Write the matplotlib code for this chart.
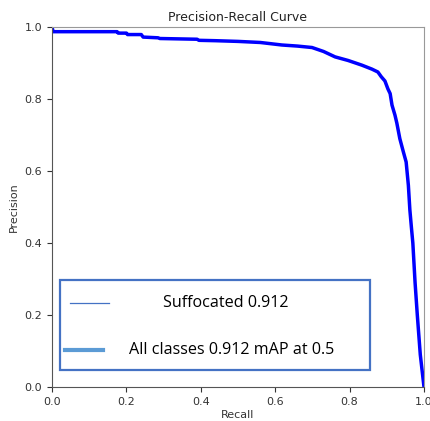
import numpy as np
import matplotlib.pyplot as plt
from matplotlib.patches import Rectangle

recall = [0.0, 0.003, 0.013, 0.175, 0.178, 0.2, 0.203, 0.24, 0.245, 0.285, 0.29,
          0.39, 0.395, 0.438, 0.5, 0.56, 0.618, 0.66, 0.699, 0.73, 0.761, 0.796,
          0.833, 0.86, 0.876, 0.885, 0.895, 0.903, 0.909, 0.914, 0.922, 0.927,
          0.935, 0.944, 0.952, 0.958, 0.962, 0.966, 0.970, 0.976, 0.982, 0.99, 1.0]
precision = [1.0, 0.987, 0.987, 0.987, 0.983, 0.983, 0.979, 0.979, 0.972, 0.970, 0.968,
             0.966, 0.963, 0.962, 0.960, 0.957, 0.950, 0.947, 0.943, 0.932, 0.917, 0.907,
             0.894, 0.883, 0.875, 0.862, 0.850, 0.828, 0.815, 0.783, 0.755, 0.733,
             0.690, 0.655, 0.625, 0.560, 0.492, 0.445, 0.400, 0.290, 0.200, 0.09, 0.0]

ticks = [0.0, 0.2, 0.4, 0.6, 0.8, 1.0]
legend_labels = ["Suffocated 0.912", "All classes 0.912 mAP at 0.5"]

fig = plt.figure(figsize=(4.30, 4.21), dpi=100)
ax = fig.add_axes([52/430, (421-387)/421, 372/430, 360/421])

ax.plot(recall, precision, color="blue", linewidth=2.5)
ax.set_xlim(0, 1)
ax.set_ylim(0, 1)
ax.set_xticks(ticks)
ax.set_yticks(ticks)
ax.tick_params(labelsize=8, colors="#333333", length=3.5)
for s in ["left", "bottom"]:
    ax.spines[s].set_color("#555555")
for s in ["top", "right"]:
    ax.spines[s].set_color("#999999")
ax.set_xlabel("Recall", fontsize=8, color="#333333", labelpad=2)
ax.set_ylabel("Precision", fontsize=8, color="#333333")
ax.set_title("Precision-Recall Curve", fontsize=9, color="#222222", pad=4)

# caja de leyenda pegada encima
ax.add_patch(Rectangle((0.0215, 0.047), 0.834, 0.25, transform=ax.transAxes,
                       fill=True, facecolor="white", edgecolor="#4472C4",
                       linewidth=1.6, zorder=5))
ax.plot([0.049, 0.153], [0.233, 0.233], transform=ax.transAxes,
        color="#4472C4", linewidth=0.9, zorder=6)
ax.plot([0.035, 0.137], [0.102, 0.102], transform=ax.transAxes,
        color="#5B9BD5", linewidth=3, zorder=6)
ax.text(0.468, 0.233, legend_labels[0], transform=ax.transAxes, ha="center",
        va="center", fontsize=11.6, family="Open Sans", zorder=7)
ax.text(0.484, 0.102, legend_labels[1], transform=ax.transAxes, ha="center",
        va="center", fontsize=11.6, family="Open Sans", zorder=7)

fig.savefig("out.png", dpi=100)
